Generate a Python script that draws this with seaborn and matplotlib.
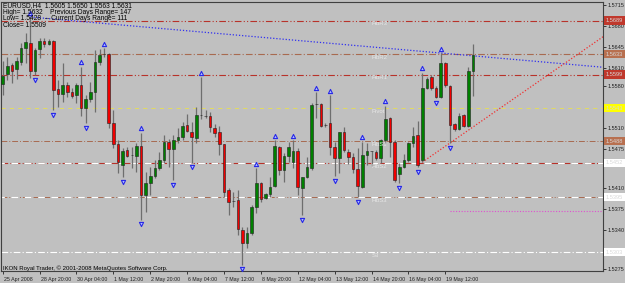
import matplotlib
matplotlib.use("Agg")
import matplotlib.pyplot as plt
import matplotlib.transforms as mtransforms
import numpy as np
import pandas as pd
import seaborn as sns

# ---------------- data (EURUSD H4) ----------------
opens = [1.5583, 1.5600, 1.5615, 1.5608, 1.5620, 1.5643, 1.5652, 1.5605, 1.5642, 1.5655,
         1.5650, 1.5655, 1.5575, 1.5567, 1.5582, 1.5570, 1.5565, 1.5582, 1.5543, 1.5558,
         1.5570, 1.5620, 1.5633, 1.5633, 1.5518, 1.5483, 1.5448, 1.5473, 1.5465, 1.5463,
         1.5480, 1.5398, 1.5418, 1.5430, 1.5443, 1.5457, 1.5487, 1.5475, 1.5490, 1.5495,
         1.5515, 1.5503, 1.5493, 1.5532, 1.5530, 1.5530, 1.5510, 1.5503, 1.5483, 1.5407,
         1.5388, 1.5390, 1.5340, 1.5318, 1.5335, 1.5378, 1.5418, 1.5393, 1.5400, 1.5413,
         1.5478, 1.5440, 1.5463, 1.5453, 1.5472, 1.5410, 1.5428, 1.5443, 1.5550, 1.5550,
         1.5515, 1.5518, 1.5478, 1.5460, 1.5503, 1.5470, 1.5462, 1.5442, 1.5412, 1.5465,
         1.5472, 1.5470, 1.5460, 1.5490, 1.5527, 1.5487, 1.5433, 1.5445, 1.5457, 1.5485,
         1.5498, 1.5457, 1.5577, 1.5595, 1.5577, 1.5562, 1.5618, 1.5580, 1.5517, 1.5508,
         1.5532, 1.5513, 1.5605]
highs = [1.5622, 1.5628, 1.5618, 1.5628, 1.5652, 1.5668, 1.5695, 1.5643, 1.5660, 1.5660,
         1.5658, 1.5657, 1.5590, 1.5618, 1.5587, 1.5577, 1.5585, 1.5612, 1.5565, 1.5587,
         1.5640, 1.5642, 1.5643, 1.5635, 1.5540, 1.5490, 1.5477, 1.5478, 1.5478, 1.5485,
         1.5502, 1.5437, 1.5445, 1.5457, 1.5470, 1.5498, 1.5492, 1.5498, 1.5510, 1.5520,
         1.5533, 1.5520, 1.5545, 1.5595, 1.5540, 1.5537, 1.5517, 1.5513, 1.5483, 1.5410,
         1.5403, 1.5407, 1.5345, 1.5345, 1.5382, 1.5443, 1.5420, 1.5402, 1.5428, 1.5490,
         1.5480, 1.5468, 1.5487, 1.5490, 1.5477, 1.5428, 1.5462, 1.5552, 1.5570, 1.5552,
         1.5518, 1.5565, 1.5487, 1.5503, 1.5512, 1.5475, 1.5468, 1.5477, 1.5487, 1.5485,
         1.5472, 1.5473, 1.5492, 1.5547, 1.5528, 1.5490, 1.5452, 1.5467, 1.5487, 1.5512,
         1.5522, 1.5602, 1.5595, 1.5598, 1.5580, 1.5635, 1.5620, 1.5582, 1.5518, 1.5535,
         1.5533, 1.5612, 1.5650]
lows = [1.5565, 1.5590, 1.5585, 1.5592, 1.5615, 1.5618, 1.5593, 1.5598, 1.5627, 1.5645,
        1.5648, 1.5540, 1.5545, 1.5553, 1.5562, 1.5560, 1.5552, 1.5530, 1.5518, 1.5553,
        1.5537, 1.5615, 1.5628, 1.5510, 1.5477, 1.5435, 1.5428, 1.5462, 1.5443, 1.5437,
        1.5357, 1.5370, 1.5398, 1.5427, 1.5440, 1.5452, 1.5445, 1.5423, 1.5485, 1.5490,
        1.5503, 1.5452, 1.5485, 1.5525, 1.5527, 1.5503, 1.5495, 1.5465, 1.5395, 1.5365,
        1.5378, 1.5332, 1.5282, 1.5310, 1.5332, 1.5368, 1.5387, 1.5392, 1.5395, 1.5412,
        1.5432, 1.5420, 1.5453, 1.5443, 1.5398, 1.5365, 1.5427, 1.5440, 1.5527, 1.5512,
        1.5512, 1.5465, 1.5430, 1.5435, 1.5470, 1.5450, 1.5435, 1.5395, 1.5410, 1.5448,
        1.5447, 1.5457, 1.5452, 1.5485, 1.5462, 1.5420, 1.5418, 1.5443, 1.5453, 1.5478,
        1.5445, 1.5453, 1.5575, 1.5573, 1.5560, 1.5560, 1.5578, 1.5485, 1.5505, 1.5507,
        1.5512, 1.5512, 1.5563]
closes = [1.5597, 1.5613, 1.5605, 1.5622, 1.5643, 1.5653, 1.5605, 1.5640, 1.5655, 1.5650,
          1.5655, 1.5573, 1.5567, 1.5582, 1.5570, 1.5563, 1.5582, 1.5543, 1.5558, 1.5570,
          1.5620, 1.5632, 1.5633, 1.5518, 1.5483, 1.5453, 1.5472, 1.5463, 1.5465, 1.5480,
          1.5398, 1.5418, 1.5430, 1.5443, 1.5457, 1.5487, 1.5475, 1.5490, 1.5495, 1.5513,
          1.5505, 1.5495, 1.5532, 1.5532, 1.5530, 1.5512, 1.5502, 1.5483, 1.5403, 1.5387,
          1.5388, 1.5342, 1.5318, 1.5335, 1.5378, 1.5418, 1.5392, 1.5400, 1.5412, 1.5480,
          1.5440, 1.5463, 1.5478, 1.5472, 1.5412, 1.5428, 1.5445, 1.5548, 1.5550, 1.5513,
          1.5515, 1.5478, 1.5460, 1.5503, 1.5473, 1.5462, 1.5442, 1.5413, 1.5465, 1.5472,
          1.5472, 1.5460, 1.5490, 1.5525, 1.5487, 1.5423, 1.5445, 1.5457, 1.5485, 1.5497,
          1.5448, 1.5577, 1.5592, 1.5577, 1.5562, 1.5618, 1.5582, 1.5515, 1.5508, 1.5530,
          1.5513, 1.5605, 1.5631]

# fractal bars (up = above high, down = below low)
fractal_up = [6, 17, 22, 30, 43, 55, 59, 63, 68, 71, 78, 83, 91, 95]
fractal_down = [7, 11, 18, 26, 30, 37, 41, 52, 65, 72, 77, 86, 90, 94, 97]

# trend lines: anchor bars
trend_high_bars = [6, 95]
trend_low_bars = [91, 97]

# pivot levels
level_names = ["FibR3", "FibR2", "FibR1", "Pivot", "FibS1", "FibS2", "FibS3", "S3"]
level_prices = [1.5689, 1.5633, 1.5599, 1.5543, 1.5488, 1.5452, 1.5395, 1.5303]
level_labels = ["1.5689", "1.5633", "1.5599", "1.5543", "1.5488", "1.5452", "1.5395", "1.5303"]
extra_level_price = 1.5372
extra_level_start = 97

# axis labels (those hidden under the level boxes are not shown)
price_ticks = [1.5715, 1.5680, 1.5645, 1.5610, 1.5580, 1.5510, 1.5475,
               1.5410, 1.5375, 1.5340, 1.5275]
time_tick_bars = [0, 8, 16, 24, 32, 40, 48, 56, 64, 72, 80, 88, 96]
time_tick_labels = ["25 Apr 2008", "28 Apr 20:00", "30 Apr 04:00", "1 May 12:00",
                    "2 May 20:00", "6 May 04:00", "7 May 12:00", "8 May 20:00",
                    "12 May 04:00", "13 May 12:00", "14 May 20:00", "16 May 04:00",
                    "19 May 12:00"]

header_lines = ["EURUSD,H4  1.5605 1.5650 1.5563 1.5631",
                "High= 1.5632    Previous Days Range= 147",
                "Low= 1.5428  -- Current Days Range= 111",
                "Close= 1.5509"]
footer_text = "IKON Royal Trader, \u00a9 2001-2008 MetaQuotes Software Corp."

# ---------------- styling ----------------
BG = "#C0C0C0"
sns.set_theme(style="white", rc={"axes.facecolor": BG, "figure.facecolor": BG,
                                 "axes.edgecolor": "#404040", "axes.linewidth": 0.8})
plt.rcParams["font.family"] = ["Liberation Sans", "DejaVu Sans"]

W, H = 625, 283
fig = plt.figure(figsize=(W / 100, H / 100), dpi=100)
left_px, right_px, top_px, bot_px = 1.5, 603, 2, 271
ax = fig.add_axes([left_px / W, 1 - bot_px / H, (right_px - left_px) / W, (bot_px - top_px) / H])

df = pd.DataFrame({"open": opens, "high": highs, "low": lows, "close": closes})
df["bar"] = np.arange(len(df))
df["bull"] = df["close"] >= df["open"]

# levels
lvl_colors = ["#B8322A", "#A86A50", "#B8322A", "#E8E050", "#A86A50", "#B8322A", "#A86A50", "#FFFFFF"]
lvl_styles = [(0, (6, 2, 1, 2, 1, 2)), (0, (6, 2, 1, 2)), (0, (6, 2, 1, 2, 1, 2)), (0, (5, 5)),
              (0, (6, 2, 1, 2)), (0, (6, 2, 1, 2)), (0, (6, 2, 1, 2)), (0, (6, 2, 1, 2))]
lvl_widths = [0.8, 0.8, 0.8, 0.6, 0.7, 0.8, 0.7, 0.8]
for p, c, ls, lw in zip(level_prices, lvl_colors, lvl_styles, lvl_widths):
    ax.axhline(p, color=c, lw=lw, ls=ls, zorder=1)
# white classic lines overlapping S levels
for p in level_prices[5:7]:
    ax.axhline(p, color="#FFFFFF", lw=0.8, ls=(3, (6, 6)), zorder=1)

xmin, xmax = -0.26, 130.2
ax.plot([extra_level_start, xmax], [extra_level_price] * 2, color="#E050D0", lw=0.8,
        ls=(0, (1, 1.5)), zorder=1)

# trend lines
b0, b1 = trend_high_bars
slope = (highs[b1] - highs[b0]) / (b1 - b0)
tl = pd.DataFrame({"x": [b0, xmax], "y": [highs[b0], highs[b0] + slope * (xmax - b0)]})
sns.lineplot(data=tl, x="x", y="y", ax=ax, color="#3030F0", lw=0.9, ls=(0, (1, 1.5)), zorder=2)
b0, b1 = trend_low_bars
slope = (lows[b1] - lows[b0]) / (b1 - b0)
tl2 = pd.DataFrame({"x": [b0, xmax], "y": [lows[b0], lows[b0] + slope * (xmax - b0)]})
sns.lineplot(data=tl2, x="x", y="y", ax=ax, color="#F03030", lw=0.9, ls=(0, (1, 1.5)), zorder=2)

# candles
ax.vlines(df["bar"], df["low"], df["high"], color="#6E6E6E", lw=0.9, zorder=3)
body_bot = np.minimum(df["open"], df["close"])
body_h = np.abs(df["close"] - df["open"])
colors = np.where(df["bull"], "#008000", "#F00000")
ax.bar(df["bar"], body_h, bottom=body_bot, width=0.56, color=colors,
       edgecolor="#202020", linewidth=0.4, zorder=4)

# fractals
off = 0.00075
fu = pd.DataFrame({"x": fractal_up, "y": [highs[i] + off for i in fractal_up]})
fd = pd.DataFrame({"x": fractal_down, "y": [lows[i] - off for i in fractal_down]})
sns.scatterplot(data=fu, x="x", y="y", ax=ax, marker="^", s=9, color="#B0C0FF",
                edgecolor="#2828E8", linewidth=0.8, zorder=5)
sns.scatterplot(data=fd, x="x", y="y", ax=ax, marker="v", s=9, color="#B0C0FF",
                edgecolor="#2828E8", linewidth=0.8, zorder=5)

# level names inside plot
for name, p in zip(level_names, level_prices):
    ax.text(80, p - 0.00012, name, color="#E6E6E6", fontsize=4.3, va="top", ha="left", zorder=6)

ax.set_xlim(xmin, xmax)
ax.set_ylim(1.52717, 1.5720)
ax.set_xlabel("")
ax.set_ylabel("")

# axes ticks
ax.yaxis.tick_right()
ax.set_yticks(price_ticks)
ax.set_yticklabels([f"{t:.4f}" for t in price_ticks])
ax.tick_params(axis="y", direction="out", length=2, width=0.6, pad=1.0, labelsize=4.0,
               colors="#202020", right=True, left=False)
ax.set_xticks(time_tick_bars)
ax.set_xticklabels(time_tick_labels, ha="left")
ax.tick_params(axis="x", direction="out", length=2.5, width=0.6, pad=2.0, labelsize=3.8,
               colors="#202020", bottom=True)
for lab in ax.get_xticklabels():
    lab.set_transform(lab.get_transform() + mtransforms.ScaledTranslation(1 / 100, 0, fig.dpi_scale_trans))

# price boxes on the right axis
box_colors = ["#C0382C", "#B87050", "#C0382C", "#FFFF00", "#B87050", "#FFFFFF", "#FFFFFF", "#FFFFFF"]
trans = mtransforms.blended_transform_factory(ax.transAxes, ax.transData)
for p, lab, bc in zip(level_prices, level_labels, box_colors):
    ax.text(1.0045, p, lab, transform=trans, fontsize=4.1, color="#D8D8D8", va="center", ha="left",
            bbox=dict(boxstyle="square,pad=0.3", fc=bc, ec="none"), zorder=10, clip_on=False)

# header and footer
for i, t in enumerate(header_lines):
    fig.text(3 / W, 1 - (5.5 + i * 6.7) / H, t, fontsize=4.8, color="#000000", va="center", ha="left")
fig.text(3 / W, 1 - 268 / H, footer_text, fontsize=4.3, color="#000000", va="center", ha="left")

fig.savefig("out.png", dpi=100, facecolor=BG)
